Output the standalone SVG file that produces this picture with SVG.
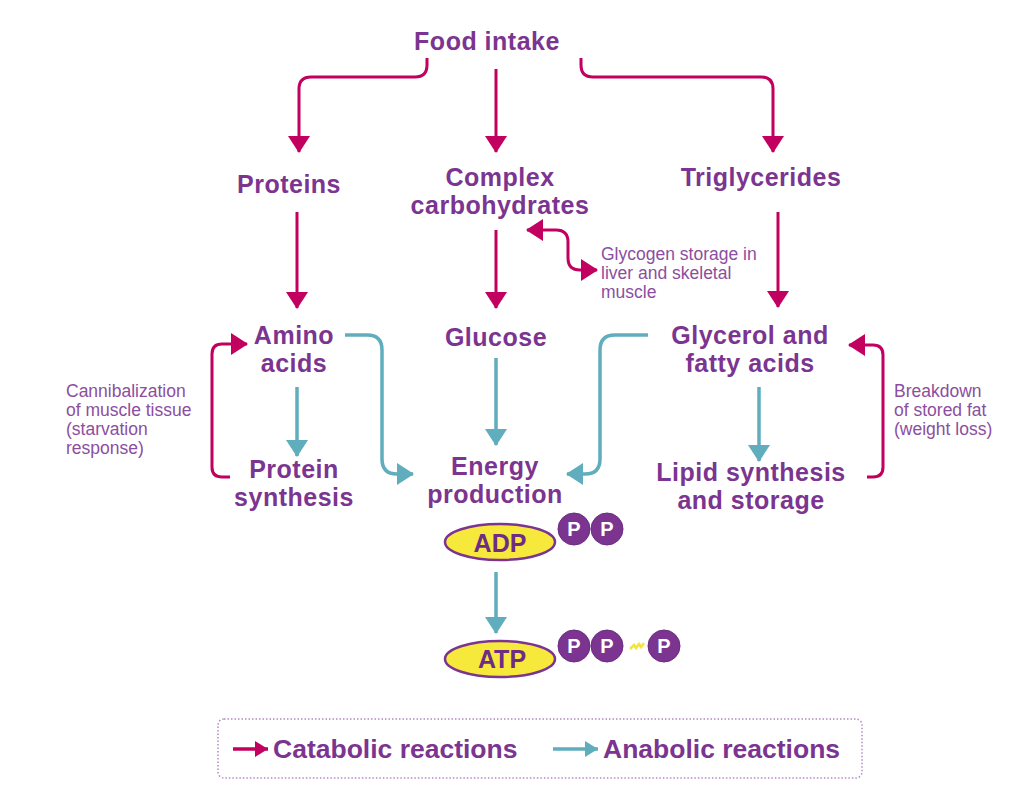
<svg xmlns="http://www.w3.org/2000/svg" width="1024" height="791" viewBox="0 0 1024 791">
<style>
.n{font-family:"Liberation Sans",Arial,sans-serif;font-weight:bold;font-size:25px;letter-spacing:0.5px;fill:#7b3590;text-anchor:middle}
.s{font-family:"Liberation Sans",Arial,sans-serif;font-size:17.5px;fill:#8c4ea0}
.cat{fill:none;stroke:#c2005f;stroke-width:3}
.ana{fill:none;stroke:#5fadbd;stroke-width:3.5}
.p{fill:#7b3590;stroke:#6a2c80;stroke-width:1}
.pt{font-family:"Liberation Sans",Arial,sans-serif;font-weight:bold;font-size:20px;fill:#fff;text-anchor:middle}
.el{fill:#f7e93c;stroke:#7b3590;stroke-width:2.5}
.lg{font-family:"Liberation Sans",Arial,sans-serif;font-weight:bold;font-size:26.5px;fill:#7b3590}
</style>
<defs>
<marker id="mc" markerUnits="userSpaceOnUse" markerWidth="18" markerHeight="24" viewBox="0 0 18 24" refX="16" refY="12" orient="auto"><path d="M0,1 L17,12 L0,23 z" fill="#c2005f"/></marker>
<marker id="mcs" markerUnits="userSpaceOnUse" markerWidth="18" markerHeight="24" viewBox="0 0 18 24" refX="16" refY="12" orient="auto-start-reverse"><path d="M0,1 L17,12 L0,23 z" fill="#c2005f"/></marker>
<marker id="ma" markerUnits="userSpaceOnUse" markerWidth="18" markerHeight="24" viewBox="0 0 18 24" refX="16" refY="12" orient="auto"><path d="M0,1 L17,12 L0,23 z" fill="#5fadbd"/></marker>
<marker id="mcl" markerUnits="userSpaceOnUse" markerWidth="14" markerHeight="18" viewBox="0 0 14 18" refX="13" refY="9" orient="auto"><path d="M0,1 L13,9 L0,17 z" fill="#c2005f"/></marker>
<marker id="mal" markerUnits="userSpaceOnUse" markerWidth="14" markerHeight="18" viewBox="0 0 14 18" refX="13" refY="9" orient="auto"><path d="M0,1 L13,9 L0,17 z" fill="#5fadbd"/></marker>
</defs>
<rect width="1024" height="791" fill="#fff"/>

<g id="connectors">
<path class="cat" d="M427 58 V65 Q427 77 415 77 H311 Q299 77 299 89 V152" marker-end="url(#mc)"/>
<path class="cat" d="M496 69 V152" marker-end="url(#mc)"/>
<path class="cat" d="M581 58 V65 Q581 77 593 77 H761 Q773 77 773 89 V152" marker-end="url(#mc)"/>
<path class="cat" d="M297 212 V308" marker-end="url(#mc)"/>
<path class="cat" d="M496 230 V308" marker-end="url(#mc)"/>
<path class="cat" d="M778 212 V307" marker-end="url(#mc)"/>
<path class="cat" d="M527 230 H556 Q568 230 568 242 V258 Q568 270 580 270 H597" marker-start="url(#mcs)" marker-end="url(#mc)"/>
<path class="cat" d="M230 477 H222 Q212 477 212 467 V354 Q212 344 222 344 H247" marker-end="url(#mc)"/>
<path class="cat" d="M867 477 H873 Q883 477 883 467 V355 Q883 345 873 345 H849" marker-end="url(#mc)"/>
<path class="ana" d="M345 335 H367 Q382 335 382 350 V459 Q382 474 397 474 H413" marker-end="url(#ma)"/>
<path class="ana" d="M496 358 V445" marker-end="url(#ma)"/>
<path class="ana" d="M648 335 H615 Q600 335 600 350 V459 Q600 474 585 474 H567" marker-end="url(#ma)"/>
<path class="ana" d="M297 387 V456" marker-end="url(#ma)"/>
<path class="ana" d="M759 387 V461" marker-end="url(#ma)"/>
<path class="ana" d="M496 572 V633" marker-end="url(#ma)"/>
</g>

<g id="food-intake"><text class="n" x="487" y="50">Food intake</text></g>
<g id="proteins"><text class="n" x="289" y="193">Proteins</text></g>
<g id="complex-carbohydrates"><text class="n" x="500" y="185.5">Complex</text><text class="n" x="500" y="213.5">carbohydrates</text></g>
<g id="triglycerides"><text class="n" x="761" y="186">Triglycerides</text></g>
<g id="glycogen-storage"><text class="s" x="601" y="260">Glycogen storage in</text><text class="s" x="601" y="279">liver and skeletal</text><text class="s" x="601" y="298">muscle</text></g>
<g id="amino-acids"><text class="n" x="294" y="343.5">Amino</text><text class="n" x="294" y="371.5">acids</text></g>
<g id="glucose"><text class="n" x="496" y="346">Glucose</text></g>
<g id="glycerol-fatty-acids"><text class="n" x="750" y="343.5">Glycerol and</text><text class="n" x="750" y="371.5">fatty acids</text></g>
<g id="cannibalization"><text class="s" x="66" y="397">Cannibalization</text><text class="s" x="66" y="416">of muscle tissue</text><text class="s" x="66" y="435">(starvation</text><text class="s" x="66" y="454">response)</text></g>
<g id="breakdown"><text class="s" x="894" y="397">Breakdown</text><text class="s" x="894" y="416">of stored fat</text><text class="s" x="894" y="435">(weight loss)</text></g>
<g id="protein-synthesis"><text class="n" x="294" y="477.5">Protein</text><text class="n" x="294" y="505.5">synthesis</text></g>
<g id="energy-production"><text class="n" x="495" y="475">Energy</text><text class="n" x="495" y="503">production</text></g>
<g id="lipid-synthesis"><text class="n" x="751" y="480.5">Lipid synthesis</text><text class="n" x="751" y="508.5">and storage</text></g>

<g id="adp">
<ellipse class="el" cx="500" cy="542" rx="55" ry="18"/>
<text class="n" x="500" y="552" style="font-size:25px;fill:#6e2c86;letter-spacing:0">ADP</text>
<circle class="p" cx="574" cy="529" r="16"/><text class="pt" x="574" y="536">P</text>
<circle class="p" cx="607" cy="529" r="16"/><text class="pt" x="607" y="536">P</text>
</g>
<g id="atp">
<ellipse class="el" cx="500" cy="659" rx="55" ry="18"/>
<text class="n" x="502" y="668" style="font-size:25px;fill:#6e2c86;letter-spacing:0">ATP</text>
<circle class="p" cx="574" cy="646" r="16"/><text class="pt" x="574" y="653">P</text>
<circle class="p" cx="607" cy="646" r="16"/><text class="pt" x="607" y="653">P</text>
<path d="M630 649 L634 645 L636 648 L639 644 L641 647 L644 643" fill="none" stroke="#f5e53a" stroke-width="2.5"/>
<circle class="p" cx="664" cy="646" r="16"/><text class="pt" x="664" y="653">P</text>
</g>

<g id="legend">
<rect x="218" y="719" width="644" height="59" rx="6" fill="none" stroke="#b58ac4" stroke-width="1.5" stroke-dasharray="1.5 2"/>
<path class="cat" d="M233 749 H268" marker-end="url(#mcl)" style="stroke-width:3.5"/>
<text class="lg" x="273" y="758">Catabolic reactions</text>
<path class="ana" d="M553 749 H598" marker-end="url(#mal)"/>
<text class="lg" x="603" y="758">Anabolic reactions</text>
</g>
</svg>
